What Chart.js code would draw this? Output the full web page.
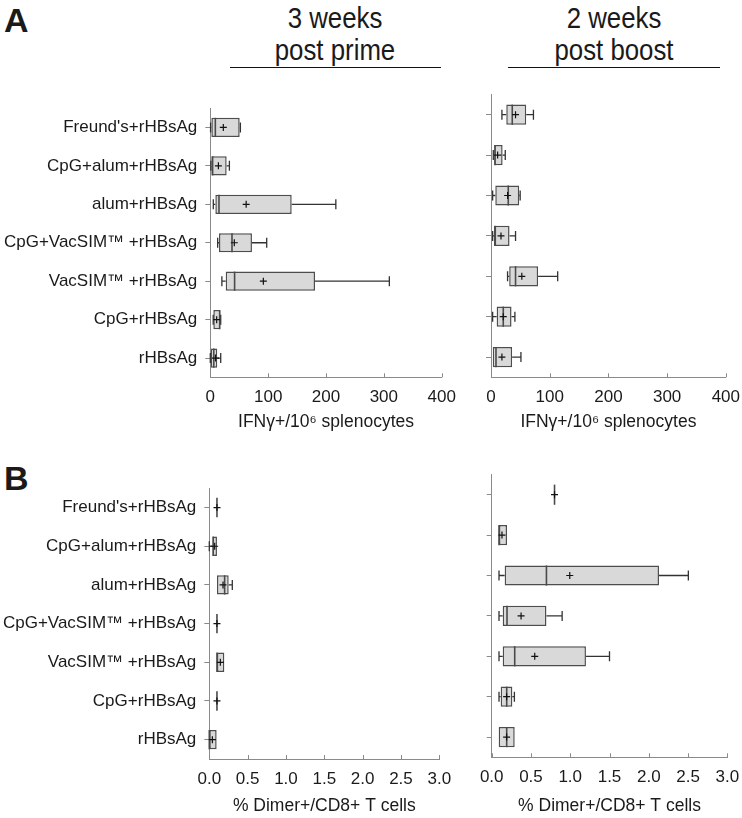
<!DOCTYPE html>
<html>
<head>
<meta charset="utf-8">
<script src="https://cdn.jsdelivr.net/npm/chart.js@4.4.1/dist/chart.umd.min.js"></script>
<style>
  html, body { margin:0; padding:0; background:#fff; }
  body { width:742px; height:818px; position:relative; overflow:hidden; font-family:"Liberation Sans", Arial, sans-serif; color:#1a1a1a; }
  canvas { position:absolute; }
  .hdr { position:absolute; text-align:center; font-size:30px; line-height:32px; transform:scaleX(0.86); transform-origin:center top; white-space:nowrap; }
  .rule { position:absolute; height:0; border-top:1.5px solid #111; }
  .lab { position:absolute; font-weight:bold; font-size:34px; line-height:1; }
</style>
</head>
<body>
<div class="lab" style="left:4px;top:3px">A</div>
<div class="lab" style="left:4px;top:461px">B</div>
<div class="hdr" style="left:235px;top:2px;width:200px">3 weeks<br>post prime</div>
<div class="hdr" style="left:514px;top:2px;width:200px">2 weeks<br>post boost</div>
<div class="rule" style="left:230px;top:67px;width:211px"></div>
<div class="rule" style="left:508px;top:67px;width:212px"></div>

<canvas id="aL" width="460" height="350" style="left:0;top:90px"></canvas>
<canvas id="aR" width="282" height="360" style="left:460px;top:80px"></canvas>
<canvas id="bL" width="460" height="348" style="left:0;top:470px"></canvas>
<canvas id="bR" width="282" height="358" style="left:460px;top:460px"></canvas>

<script>
// ---------- data ----------
const categories = ["Freund's+rHBsAg", "CpG+alum+rHBsAg", "alum+rHBsAg", "CpG+VacSIM\u2122 +rHBsAg", "VacSIM\u2122 +rHBsAg", "CpG+rHBsAg", "rHBsAg"];
const ifnTicks = [0, 100, 200, 300, 400];
const dimerTicks = [0, 0.5, 1.0, 1.5, 2.0, 2.5, 3.0];
const ifnTitle = "IFN\u03B3+/10\u2076 splenocytes";
const dimerTitle = "% Dimer+/CD8+ T cells";

// A: IFNγ+ per 10^6 splenocytes, 3 weeks post prime
const primeIfnMin  = [0.5, 1.0, 5.2, 12.7, 20.0, 5.0, 0.0];
const primeIfnQ1   = [1.8, 1.8, 8.7, 15.0, 26.6, 5.2, 0.7];
const primeIfnMed  = [8.7, 4.0, 15.0, 37.5, 42.0, 16.2, 6.0];
const primeIfnQ3   = [50.8, 28.3, 140.7, 72.0, 181.0, 17.3, 12.0];
const primeIfnMax  = [52.0, 33.0, 217.0, 97.5, 309.5, 18.0, 18.0];
const primeIfnMean = [22.5, 14.0, 62.0, 41.5, 91.7, 11.0, 9.0];

// A: IFNγ+ per 10^6 splenocytes, 2 weeks post boost
const boostIfnMin  = [18.6, 3.9, 2.8, 2.8, 28.2, 2.8, 3.0];
const boostIfnQ1   = [26.0, 5.6, 7.3, 5.1, 31.0, 9.6, 3.0];
const boostIfnMed  = [36.2, 6.8, 29.4, 7.3, 41.8, 20.9, 8.5];
const boostIfnQ3   = [60.0, 19.8, 48.0, 31.6, 80.2, 35.0, 36.0];
const boostIfnMax  = [72.3, 24.3, 49.7, 41.8, 113.6, 40.7, 51.0];
const boostIfnMean = [41.8, 11.3, 28.3, 17.0, 52.5, 20.9, 18.6];

// B: % Dimer+/CD8+ T cells, 3 weeks post prime
const primeDimerMin  = [0.10, 0.00, 0.10, 0.10, 0.10, 0.10, 0.00];
const primeDimerQ1   = [0.10, 0.044, 0.10, 0.10, 0.10, 0.10, 0.00];
const primeDimerMed  = [0.10, 0.05, 0.20, 0.10, 0.10, 0.10, 0.00];
const primeDimerQ3   = [0.10, 0.10, 0.253, 0.10, 0.196, 0.10, 0.096];
const primeDimerMax  = [0.10, 0.10, 0.30, 0.10, 0.196, 0.10, 0.096];
const primeDimerMean = [0.10, 0.07, 0.179, 0.10, 0.144, 0.10, 0.04];

// B: % Dimer+/CD8+ T cells, 2 weeks post boost
const boostDimerMin  = [0.80, 0.093, 0.093, 0.093, 0.093, 0.093, 0.089];
const boostDimerQ1   = [0.80, 0.093, 0.165, 0.14, 0.14, 0.114, 0.089];
const boostDimerMed  = [0.80, 0.093, 0.697, 0.195, 0.293, 0.191, 0.191];
const boostDimerQ3   = [0.80, 0.195, 2.13, 0.697, 1.20, 0.263, 0.293];
const boostDimerMax  = [0.80, 0.195, 2.504, 0.897, 1.50, 0.289, 0.293];
const boostDimerMean = [0.80, 0.131, 0.994, 0.374, 0.548, 0.19, 0.19];

// ---------- drawing ----------
const FONT = "'Liberation Sans', Arial, Helvetica, sans-serif";
const AXIS = '#8a8a8a';
const TEXT = '#1a1a1a';

function boxExtras(s) {
  return {
    id: 'boxExtras',
    afterDatasetsDraw(chart) {
      const ctx = chart.ctx, x = chart.scales.x, y = chart.scales.y;
      const half = (y.height / categories.length) * 0.25;
      const cap = 5;
      const px = v => x.getPixelForValue(v);
      ctx.save();
      ctx.lineCap = 'butt';
      categories.forEach((c, i) => {
        const cy = y.getPixelForValue(i);
        ctx.strokeStyle = '#333';
        ctx.lineWidth = 1.3;
        ctx.beginPath();
        if (s.min[i] < s.q1[i]) {
          ctx.moveTo(px(s.min[i]), cy); ctx.lineTo(px(s.q1[i]), cy);
          ctx.moveTo(px(s.min[i]), cy - cap); ctx.lineTo(px(s.min[i]), cy + cap);
        }
        if (s.max[i] > s.q3[i]) {
          ctx.moveTo(px(s.q3[i]), cy); ctx.lineTo(px(s.max[i]), cy);
          ctx.moveTo(px(s.max[i]), cy - cap); ctx.lineTo(px(s.max[i]), cy + cap);
        }
        ctx.stroke();
        ctx.strokeStyle = '#4a4a4a';
        ctx.lineWidth = 1.6;
        ctx.beginPath();
        ctx.moveTo(px(s.med[i]), cy - half); ctx.lineTo(px(s.med[i]), cy + half);
        ctx.stroke();
        const mx = px(s.mean[i]);
        ctx.strokeStyle = '#111';
        ctx.lineWidth = 1.2;
        ctx.beginPath();
        ctx.moveTo(mx - 3.5, cy); ctx.lineTo(mx + 3.5, cy);
        ctx.moveTo(mx, cy - 3.5); ctx.lineTo(mx, cy + 3.5);
        ctx.stroke();
      });
      ctx.strokeStyle = AXIS;
      ctx.lineWidth = 1;
      ctx.beginPath();
      x.ticks.forEach(t => {
        const X = Math.round(x.getPixelForValue(t.value)) + 0.5;
        ctx.moveTo(X, x.top); ctx.lineTo(X, x.top - 4);
      });
      ctx.stroke();
      ctx.restore();
    }
  };
}

function boxChart(id, s) {
  return new Chart(document.getElementById(id), {
    type: 'bar',
    data: {
      labels: categories,
      datasets: [{
        data: s.q1.map((v, i) => [v, s.q3[i]]),
        backgroundColor: '#d9d9d9',
        borderColor: '#4d4d4d',
        borderWidth: 1.5,
        borderSkipped: false,
        barPercentage: 0.5,
        categoryPercentage: 1
      }]
    },
    options: {
      indexAxis: 'y',
      responsive: false,
      animation: false,
      devicePixelRatio: 1,
      layout: { padding: { top: s.padTop, right: s.padRight, left: 0, bottom: 0 } },
      plugins: { legend: { display: false }, tooltip: { enabled: false } },
      scales: {
        x: {
          type: 'linear', min: 0, max: s.ticks[s.ticks.length - 1],
          afterBuildTicks: sc => { sc.ticks = s.ticks.map(v => ({ value: v })); },
          afterFit: sc => { sc.height = s.xHeight; },
          grid: { display: false },
          border: { display: true, color: AXIS, width: 1 },
          ticks: {
            padding: 2, color: TEXT, maxRotation: 0, autoSkip: false,
            font: { size: 17, family: FONT },
            callback: v => s.decimals ? Number(v).toFixed(s.decimals) : String(v)
          },
          title: {
            display: true, text: s.title, color: TEXT,
            font: { size: 17.5, family: FONT, lineHeight: 1.2 },
            padding: { top: 0, bottom: s.titlePad }
          }
        },
        y: {
          type: 'category', offset: true,
          afterFit: sc => { sc.width = s.yWidth; },
          grid: { display: true, offset: false, drawOnChartArea: false, drawTicks: true, tickLength: 5, color: AXIS },
          border: { display: true, color: AXIS, width: 1 },
          ticks: { display: s.showLabels, padding: 8, color: TEXT, autoSkip: false, font: { size: 17, family: FONT } }
        }
      }
    },
    plugins: [boxExtras(s)]
  });
}

boxChart('aL', { min: primeIfnMin, q1: primeIfnQ1, med: primeIfnMed, q3: primeIfnQ3, max: primeIfnMax, mean: primeIfnMean,
  ticks: ifnTicks, decimals: 0, title: ifnTitle, showLabels: true,
  yWidth: 210.3, xHeight: 62.7, padTop: 13, padRight: 18.3, titlePad: 7 });
boxChart('aR', { min: boostIfnMin, q1: boostIfnQ1, med: boostIfnMed, q3: boostIfnQ3, max: boostIfnMax, mean: boostIfnMean,
  ticks: ifnTicks, decimals: 0, title: ifnTitle, showLabels: false,
  yWidth: 31, xHeight: 62.7, padTop: 14.5, padRight: 14.7, titlePad: 7 });
boxChart('bL', { min: primeDimerMin, q1: primeDimerQ1, med: primeDimerMed, q3: primeDimerQ3, max: primeDimerMax, mean: primeDimerMean,
  ticks: dimerTicks, decimals: 1, title: dimerTitle, showLabels: true,
  yWidth: 209.3, xHeight: 59, padTop: 14, padRight: 20.7, titlePad: 1 });
boxChart('bR', { min: boostDimerMin, q1: boostDimerQ1, med: boostDimerMed, q3: boostDimerQ3, max: boostDimerMax, mean: boostDimerMean,
  ticks: dimerTicks, decimals: 1, title: dimerTitle, showLabels: false,
  yWidth: 31.7, xHeight: 60.7, padTop: 14.5, padRight: 14.7, titlePad: 1 });
</script>
</body>
</html>
